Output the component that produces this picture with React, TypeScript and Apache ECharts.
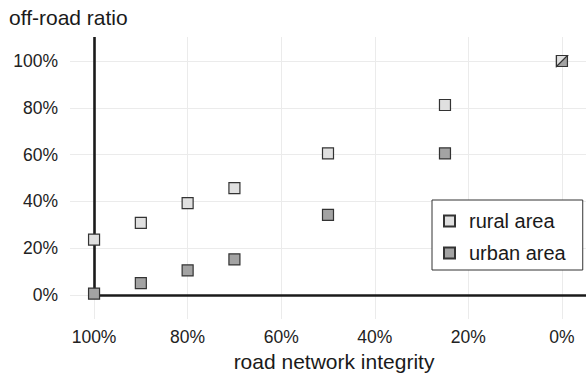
import React, { useEffect, useRef } from "react";
import * as echarts from "echarts";

const integrity = [100, 90, 80, 70, 50, 25, 0];
const ruralRatio = [23.7, 30.8, 39.3, 45.7, 60.5, 81.2, 100];
const urbanRatio = [0.6, 5.1, 10.5, 15.2, 34.2, 60.5, 100];
const xTicks = [0, 20, 40, 60, 80, 100];
const yTicks = [0, 20, 40, 60, 80, 100];
const seriesNames = ["rural area", "urban area"];

const X_MIN = -5.14;
const X_MAX = 105.14;
const Y_MIN = -10.26;
const Y_MAX = 110.26;

const FONT = "'Liberation Sans', Arial, Helvetica, sans-serif";
const TRI = "path://M0,0 L10,0 L0,10 Z";

export default function App() {
  const ref = useRef<HTMLDivElement>(null);
  useEffect(() => {
    document.body.style.margin = "0";
    const chart = echarts.init(ref.current!, undefined, { renderer: "svg" });
    const ruralData = integrity.map((x, i) => [x, ruralRatio[i]]);
    const urbanData = integrity.map((x, i) => [x, urbanRatio[i]]);
    chart.setOption({
      animation: false,
      backgroundColor: "#ffffff",
      textStyle: { fontFamily: FONT },
      title: {
        text: "off-road ratio",
        left: 9,
        top: 7,
        padding: 0,
        textStyle: { fontSize: 21, fontWeight: "normal", color: "#1a1a1a", fontFamily: FONT },
      },
      grid: { left: 70, right: 0, top: 37, bottom: 62, containLabel: false },
      xAxis: {
        type: "value",
        inverse: true,
        min: X_MIN,
        max: X_MAX,
        name: "road network integrity",
        nameLocation: "middle",
        nameGap: 32,
        nameTextStyle: { fontSize: 21, color: "#1a1a1a", fontFamily: FONT, padding: [0, 0, 0, 12] },
        axisLine: { show: false },
        axisTick: { show: false, customValues: xTicks },
        axisLabel: {
          customValues: xTicks,
          formatter: (v: number) => `${v}%`,
          fontSize: 17.5,
          color: "#222",
          margin: 9,
          fontFamily: FONT,
        },
        splitLine: { show: true, lineStyle: { color: "#ebebeb", width: 1 } },
      },
      yAxis: {
        type: "value",
        min: Y_MIN,
        max: Y_MAX,
        axisLine: { show: false },
        axisTick: { show: false, customValues: yTicks },
        axisLabel: {
          customValues: yTicks,
          formatter: (v: number) => `${v}%`,
          fontSize: 17.5,
          color: "#222",
          margin: 12,
          fontFamily: FONT,
        },
        splitLine: { show: true, lineStyle: { color: "#ebebeb", width: 1 } },
      },
      legend: {
        data: seriesNames,
        left: 432,
        top: 200,
        orient: "vertical",
        backgroundColor: "#ffffff",
        borderColor: "#333",
        borderWidth: 1,
        borderRadius: 0,
        padding: [11, 17, 7, 11],
        itemGap: 12,
        itemWidth: 11,
        itemHeight: 11,
        icon: "rect",
        textStyle: { fontSize: 20, color: "#1a1a1a", lineHeight: 20, padding: [0, 0, 0, 9], fontFamily: FONT },
      },
      series: [
        {
          name: "axes",
          type: "line",
          data: [],
          silent: true,
          z: 1,
          markLine: {
            silent: true,
            symbol: "none",
            z: 1,
            label: { show: false },
            lineStyle: { color: "#1a1a1a", width: 2.6, type: "solid" },
            data: [
              [{ coord: [integrity[0], Y_MAX] }, { coord: [integrity[0], 0] }],
              [{ coord: [integrity[0], 0] }, { coord: [X_MIN, 0] }],
            ],
          },
        },
        {
          name: seriesNames[0],
          type: "scatter",
          z: 4,
          symbolSize: 11,
          symbol: (val: number[], params: any) =>
            ruralRatio[params.dataIndex] === urbanRatio[params.dataIndex] ? TRI : "rect",
          itemStyle: { color: "#e0e0e0", borderColor: "#333", borderWidth: 1.2, opacity: 1 },
          data: ruralData,
        },
        {
          name: seriesNames[1],
          type: "scatter",
          z: 3,
          symbolSize: 11,
          symbol: "rect",
          itemStyle: { color: "#a3a3a3", borderColor: "#333", borderWidth: 1.2, opacity: 1 },
          data: urbanData,
        },
      ],
    });
    return () => chart.dispose();
  }, []);
  return (
    <div
      ref={ref}
      style={{ position: "fixed", left: 0, top: 0, width: 586, height: 381 }}
    />
  );
}
